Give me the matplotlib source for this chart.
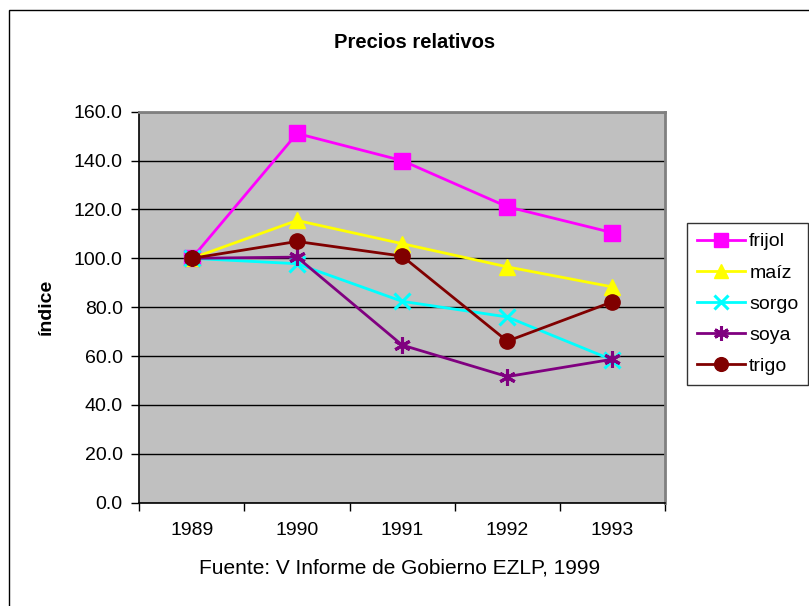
import matplotlib
matplotlib.use("Agg")
import matplotlib.pyplot as plt
from matplotlib.patches import Rectangle

years = ["1989", "1990", "1991", "1992", "1993"]
frijol = [100.0, 151.1, 140.0, 121.1, 110.5]
maiz = [100.0, 115.5, 106.0, 96.5, 88.3]
sorgo = [100.0, 97.8, 82.4, 76.0, 58.4]
soya = [100.0, 100.5, 64.5, 51.6, 58.7]
trigo = [100.0, 106.9, 100.9, 66.1, 82.2]
yticks = [0, 20, 40, 60, 80, 100, 120, 140, 160]

plt.rcParams['font.family'] = ['Liberation Sans', 'DejaVu Sans']

W, H = 809, 606
fig = plt.figure(figsize=(W / 100, H / 100), dpi=100)
fig.patch.set_facecolor('white')

# outer chart border
fig.add_artist(Rectangle((9 / W, -0.1), 1.2, 1 - 10 / H + 0.1, transform=fig.transFigure,
                         fill=False, edgecolor='black', linewidth=1.0))

left, right, top, bottom = 139.3, 665, 111.7, 502.7
ax = fig.add_axes([left / W, 1 - bottom / H, (right - left) / W, (bottom - top) / H])
ax.set_facecolor('#C0C0C0')

x = list(range(len(years)))
series = [
    ("frijol", frijol, '#FF00FF', 's', 11, {}),
    ("maíz", maiz, '#FFFF00', '^', 11, {}),
    ("sorgo", sorgo, '#00FFFF', 'x', 11, {'markeredgewidth': 2.2}),
    ("soya", soya, '#800080', (6, 2, 0), 12, {'markeredgewidth': 2.2}),
    ("trigo", trigo, '#800000', 'o', 11, {}),
]
for name, vals, col, mk, ms, kw in series:
    ax.plot(x, vals, color=col, linewidth=2.0, marker=mk, markersize=ms,
            markerfacecolor=col, markeredgecolor=col, label=name, zorder=3, **kw)

ax.set_xlim(-0.5, len(years) - 0.5)
ax.set_ylim(0, 160)
ax.set_yticks(yticks)
ax.set_yticklabels([f"{v:.1f}" for v in yticks], fontsize=14)
ax.yaxis.grid(True, color='black', linewidth=1.0)
ax.set_axisbelow(True)

ax.set_xticks(x)
ax.set_xticklabels(years, fontsize=14)
ax.set_xticks([i - 0.5 for i in range(len(years) + 1)], minor=True)
ax.tick_params(axis='x', which='major', length=0, pad=14)
ax.tick_params(axis='x', which='minor', length=6, width=1, direction='out', color='black')
ax.tick_params(axis='y', length=6, width=1, direction='out', pad=6)

for s in ['left', 'bottom']:
    ax.spines[s].set_color('black')
    ax.spines[s].set_linewidth(1.2)
for s in ['top', 'right']:
    ax.spines[s].set_color('#808080')
    ax.spines[s].set_linewidth(2.0)

ax.set_ylabel("índice", fontsize=14, fontweight='bold')
ax.yaxis.set_label_coords(-84 / (right - left), 0.5)

fig.text(415 / W, 1 - 42 / H, "Precios relativos", ha='center', va='center',
         fontsize=14.5, fontweight='bold')
fig.text(400 / W, 1 - 568 / H, "Fuente: V Informe de Gobierno EZLP, 1999", ha='center',
         va='center', fontsize=15)

leg = fig.legend(loc='upper left', bbox_to_anchor=(687 / W, 1 - 223 / H), fontsize=14,
                 frameon=True, fancybox=False, edgecolor='black', borderpad=0.5,
                 handlelength=2.5, labelspacing=0.7, handletextpad=0.2,
                 borderaxespad=0, markerscale=0.9)
leg.get_frame().set_linewidth(1.0)

fig.savefig("out.png", dpi=100)
